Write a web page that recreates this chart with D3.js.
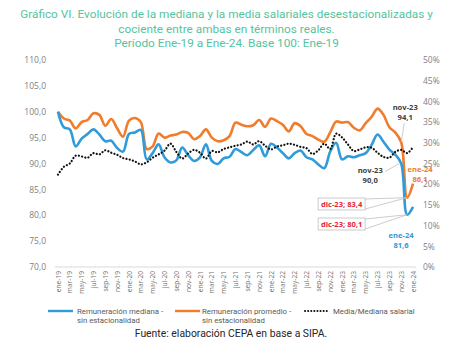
<!DOCTYPE html>
<html>
<head>
<meta charset="utf-8">
<script src="https://cdn.jsdelivr.net/npm/d3@7"></script>
<style>
  html, body { margin: 0; padding: 0; background: #fff; }
  svg { display: block; }
</style>
</head>
<body>
<div id="chart"></div>
<script>
// ---- Data ----
const monthNames = ["ene","feb","mar","abr","may","jun","jul","ago","sep","oct","nov","dic"];
const months = [];
for (let y = 19; y <= 24; y++) {
  for (let m = 0; m < 12; m++) {
    if (y === 24 && m > 0) break;
    months.push(monthNames[m] + "-" + y);
  }
}
const titleLines = [
  "Gráfico VI. Evolución de la mediana y la media salariales desestacionalizadas y",
  "cociente entre ambas en términos reales.",
  "Período Ene-19 a Ene-24. Base 100: Ene-19"
];
const mediana = [100.0,97.0,96.6,93.3,94.8,95.7,96.6,95.6,94.3,94.4,93.0,92.3,95.7,96.0,96.5,90.8,92.0,93.7,91.2,90.2,
  90.6,93.1,91.6,90.5,91.2,93.7,90.5,89.9,91.0,91.3,92.8,92.2,91.6,92.6,93.5,91.4,93.8,93.1,92.0,91.0,
  92.0,92.5,91.2,90.8,89.8,89.1,92.3,94.0,90.8,91.4,91.2,91.6,92.0,93.6,95.6,94.2,92.7,91.7,90.0,80.1,81.6];
const promedio = [100.0,98.7,98.3,96.8,98.0,98.4,99.7,99.4,97.3,98.6,96.8,95.2,98.3,98.8,98.0,92.8,93.3,95.8,95.0,95.4,
  95.6,96.1,95.9,94.7,95.3,96.6,95.0,94.3,94.5,95.3,97.9,97.5,97.2,97.4,98.4,97.1,98.7,98.2,97.5,96.2,
  97.8,97.2,95.7,95.3,94.6,94.2,96.0,98.1,97.9,98.0,96.9,96.4,97.8,99.0,100.6,99.4,97.0,96.0,94.1,83.4,86.1];
const cociente = [22.3,24.2,25.0,26.9,26.7,26.4,27.5,27.2,28.2,27.6,27.1,26.3,26.0,25.5,24.8,25.3,26.4,27.2,28.1,29.8,
  27.8,26.2,27.4,28.3,27.6,26.2,28.0,27.7,28.5,28.9,29.3,29.6,30.3,29.6,30.4,29.3,28.4,29.1,29.4,29.8,
  29.5,29.0,28.7,27.3,28.2,29.8,28.5,32.2,31.3,29.6,28.0,28.4,28.9,28.8,27.6,26.6,26.4,27.8,28.3,27.5,29.0];
const leftTicks = [70,75,80,85,90,95,100,105,110];
const rightTicks = [0,5,10,15,20,25,30,35,40,45,50];
const seriesNames = ["Remuneración mediana -|sin estacionalidad","Remuneración promedio -|sin estacionalidad","Media/Mediana salarial"];
const sourceText = "Fuente: elaboración CEPA en base a SIPA.";

// ---- Layout ----
const W = 467, H = 360;
const plot = {left: 55, right: 416, top: 60, bottom: 267};
const colBlue = "#2f9bd8", colOrange = "#f07c2c", colTitle = "#55c4a0", colAxis = "#7f7f7f";
const fmt = d3.format(".1f");
const comma = v => fmt(v).replace(".", ",");

const svg = d3.select("#chart").append("svg").attr("width", W).attr("height", H)
  .style("font-family", "Roboto, 'Noto Sans', sans-serif");

// Title
svg.append("g").selectAll("text").data(titleLines).join("text")
  .attr("x", W/2 - 7).attr("y", (d,i) => 18 + i*14.5)
  .attr("text-anchor", "middle").attr("fill", colTitle)
  .style("font-size", "11.8px")
  .text(d => d);

const x = d3.scalePoint().domain(months).range([plot.left, plot.right]).padding(0.5);
const yL = d3.scaleLinear().domain([70,110]).range([plot.bottom, plot.top]);
const yR = d3.scaleLinear().domain([0,50]).range([plot.bottom, plot.top]);

// Left axis
const axL = svg.append("g").attr("transform", `translate(${plot.left},0)`)
  .call(d3.axisLeft(yL).tickValues(leftTicks).tickSize(0).tickPadding(9).tickFormat(comma));
axL.select(".domain").remove();
axL.selectAll("text").attr("fill", colAxis).style("font-size", "8.5px").style("font-family", "'Open Sans', sans-serif");

// Right axis
const axR = svg.append("g").attr("transform", `translate(${plot.right},0)`)
  .call(d3.axisRight(yR).tickValues(rightTicks).tickSize(0).tickPadding(7).tickFormat(d => d + "%"));
axR.select(".domain").remove();
axR.selectAll("text").attr("fill", colAxis).style("font-size", "8.5px").style("font-family", "'Open Sans', sans-serif");

// Bottom axis
const axB = svg.append("g").attr("transform", `translate(0,${plot.bottom})`)
  .call(d3.axisBottom(x).tickValues(months.filter((d,i) => i % 2 === 0)).tickSize(0).tickPadding(0));
axB.select(".domain").attr("stroke", "#d9d9d9").attr("d", `M${plot.left},0H${plot.right}`);
axB.selectAll("text")
  .attr("fill", "#6f6f6f").style("font-size", "6.6px").style("font-family", "'Open Sans', sans-serif")
  .attr("transform", "rotate(-90)").attr("text-anchor", "end")
  .attr("x", -4).attr("y", 0).attr("dy", "0.32em");

// Lines
const curve = d3.curveCatmullRom.alpha(0.5);
const lineL = d3.line().x((d,i) => x(months[i])).y(d => yL(d)).curve(curve);
const lineR = d3.line().x((d,i) => x(months[i])).y(d => yR(d)).curve(curve);

svg.append("path").datum(promedio).attr("d", lineL).attr("fill", "none")
  .attr("stroke", colOrange).attr("stroke-width", 2.6).attr("stroke-linejoin", "round");
svg.append("path").datum(mediana).attr("d", lineL).attr("fill", "none")
  .attr("stroke", colBlue).attr("stroke-width", 2.6).attr("stroke-linejoin", "round");
svg.append("path").datum(cociente).attr("d", lineR).attr("fill", "none")
  .attr("stroke", "#111").attr("stroke-width", 2.2).attr("stroke-dasharray", "0.1,3.2").attr("stroke-linecap", "round");

// Annotations
const ann = svg.append("g").style("font-family", "'Open Sans', sans-serif").style("font-size", "7.6px").style("font-weight", "bold");
const iNov = months.indexOf("nov-23"), iDic = months.indexOf("dic-23"), iEne = months.indexOf("ene-24");
const lh = 10;

// nov-23 promedio
ann.append("line").attr("x1", x(months[iNov]) + 3).attr("y1", yL(promedio[iNov]) - 19)
  .attr("x2", x(months[iNov])).attr("y2", yL(promedio[iNov])).attr("stroke", "#bfbfbf").attr("stroke-width", 0.8);
ann.append("text").attr("y", yL(promedio[iNov]) - 32).attr("text-anchor", "middle").attr("fill", "#404040")
  .selectAll("tspan").data([months[iNov], comma(promedio[iNov])]).join("tspan")
  .attr("x", x(months[iNov]) + 4).attr("dy", (d,i) => i ? lh : 0).text(d => d);

// nov-23 mediana
ann.append("line").attr("x1", x(months[iNov]) - 16).attr("y1", yL(mediana[iNov]) + 8)
  .attr("x2", x(months[iNov]) - 2).attr("y2", yL(mediana[iNov])).attr("stroke", "#bfbfbf").attr("stroke-width", 0.8);
ann.append("text").attr("y", yL(mediana[iNov]) + 9).attr("text-anchor", "middle").attr("fill", "#404040")
  .selectAll("tspan").data([months[iNov], comma(mediana[iNov])]).join("tspan")
  .attr("x", x(months[iNov]) - 31).attr("dy", (d,i) => i ? lh : 0).text(d => d);

// ene-24 promedio
ann.append("text").attr("y", yL(promedio[iEne]) - 12).attr("text-anchor", "middle").attr("fill", colOrange)
  .selectAll("tspan").data([months[iEne], comma(promedio[iEne])]).join("tspan")
  .attr("x", x(months[iEne]) + 7).attr("dy", (d,i) => i ? lh : 0).text(d => d);

// ene-24 mediana
ann.append("text").attr("y", yL(mediana[iEne]) + 31).attr("text-anchor", "middle").attr("fill", colBlue)
  .selectAll("tspan").data([months[iEne], comma(mediana[iEne])]).join("tspan")
  .attr("x", x(months[iEne]) - 12).attr("dy", (d,i) => i ? lh : 0).text(d => d);

// dic-23 boxes
const boxes = [
  {val: promedio[iDic], by: 198},
  {val: mediana[iDic], by: 218}
];
boxes.forEach(b => {
  const bx = x(months[iDic]) - 89, bw = 47, bh = 12;
  const px = x(months[iDic]), py = yL(b.val);
  ann.append("line").attr("x1", bx + bw).attr("y1", b.by + 1).attr("x2", px).attr("y2", py).attr("stroke", "#bfbfbf").attr("stroke-width", 0.8);
  ann.append("line").attr("x1", bx + bw).attr("y1", b.by + bh - 1).attr("x2", px).attr("y2", py).attr("stroke", "#bfbfbf").attr("stroke-width", 0.8);
  ann.append("rect").attr("x", bx).attr("y", b.by).attr("width", bw).attr("height", bh)
    .attr("fill", "#fff").attr("stroke", "#bfbfbf").attr("stroke-width", 0.8);
  ann.append("text").attr("x", bx + bw/2).attr("y", b.by + 8.8).attr("text-anchor", "middle")
    .attr("fill", "#e8253b").text(months[iDic] + "; " + comma(b.val));
});

// Legend
const leg = svg.append("g").style("font-family", "Roboto, sans-serif").style("font-size", "7.8px").attr("fill", "#595959");
const legItems = [
  {x: 48, tx: 77, color: colBlue, dash: null},
  {x: 175, tx: 202, color: colOrange, dash: null},
  {x: 305, tx: 333, color: "#111", dash: "0.1,3"}
];
legItems.forEach((it, i) => {
  const g = leg.append("g");
  g.append("line").attr("x1", it.x).attr("x2", it.x + (it.dash ? 22 : 25)).attr("y1", 311).attr("y2", 311)
    .attr("stroke", it.color).attr("stroke-width", it.dash ? 2 : 2.4)
    .attr("stroke-dasharray", it.dash).attr("stroke-linecap", it.dash ? "round" : "butt");
  const lines = seriesNames[i].split("|");
  g.append("text").attr("y", 314).selectAll("tspan").data(lines).join("tspan")
    .attr("x", it.tx).attr("dy", (d,j) => j ? 9 : 0).text(d => d);
});

// Source
svg.append("text").attr("x", 231).attr("y", 337).attr("text-anchor", "middle")
  .attr("fill", "#262626").style("font-size", "10.4px").text(sourceText);
</script>
</body>
</html>
